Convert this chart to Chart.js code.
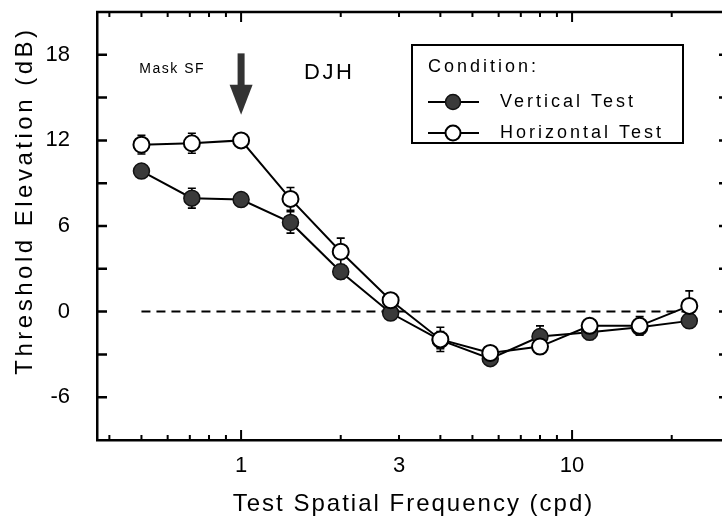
<!DOCTYPE html>
<html><head><meta charset="utf-8">
<script src="https://cdn.jsdelivr.net/npm/chart.js@4.4.1/dist/chart.umd.min.js"></script>
<style>
html,body{margin:0;padding:0;overflow:hidden;background:#fff;}
#wrap{width:740px;height:524px;position:relative;}
</style></head><body>
<div id="wrap"><canvas id="c"></canvas></div>
<script>
// ---- data ----
const frequencies = [0.5, 0.71, 1, 1.41, 2, 2.83, 4, 5.66, 8, 11.3, 16, 22.6];
const verticalTest = [9.85, 7.95, 7.85, 6.25, 2.8, -0.1, -2.0, -3.3, -1.75, -1.45, -1.1, -0.65];
const verticalErr  = [0.3, 0.7, 0.3, 0.75, 0.5, 0.3, 0.6, 0.3, 0.75, 0.5, 0.3, 0.3];
const horizontalTest = [11.7, 11.8, 12.0, 7.9, 4.2, 0.8, -1.95, -2.9, -2.45, -1.0, -1.0, 0.4];
const horizontalErr  = [0.65, 0.7, 0.3, 0.8, 0.95, 0.3, 0.85, 0.3, 0.4, 0.3, 0.65, 1.05];
const xTickLabels = [1, 3, 10];
const xMajorTicks = [1, 10];
const xMinorTicks = [0.4, 0.5, 0.6, 0.7, 0.8, 0.9, 2, 3, 4, 5, 6, 7, 8, 9, 20];
const yTickLabels = [-6, 0, 6, 12, 18];
const yTickMarks = [-6, -3, 0, 3, 6, 9, 12, 15, 18];
const maskSF = 1;
const seriesNames = ['Vertical Test', 'Horizontal Test'];
const legendTitle = 'Condition:';
const subjectLabel = 'DJH';
const maskLabel = 'Mask SF';

const FONT = "'Liberation Sans', Arial, Helvetica, sans-serif";
const NARROW = "'Liberation Sans Narrow', 'Arial Narrow', 'Liberation Sans', Arial, sans-serif";
Chart.defaults.font.family = FONT;
Chart.defaults.color = '#000';

function patchTitle(scale, spacing) {
  if (scale._lsPatched) return;
  const orig = scale.drawTitle.bind(scale);
  scale.drawTitle = function () {
    const prev = this.ctx.letterSpacing;
    this.ctx.letterSpacing = spacing;
    orig();
    this.ctx.letterSpacing = prev;
  };
  scale._lsPatched = true;
}

const decor = {
  id: 'decor',
  beforeDraw(chart) {
    chart.ctx.letterSpacing = '0px';
    patchTitle(chart.scales.x, '2px');
    patchTitle(chart.scales.y, '3.5px');
  },
  beforeDatasetsDraw(chart) {
    const {ctx, scales: {x, y}} = chart;
    ctx.save();
    ctx.strokeStyle = '#000';
    ctx.lineWidth = 1.6;
    chart.data.datasets.forEach(ds => {
      if (!ds.errors) return;
      ds.data.forEach((p, i) => {
        const e = ds.errors[i];
        const px = x.getPixelForValue(p.x);
        const y1 = y.getPixelForValue(p.y + e), y2 = y.getPixelForValue(p.y - e);
        ctx.beginPath();
        ctx.moveTo(px, y1); ctx.lineTo(px, y2);
        ctx.moveTo(px - 4, y1); ctx.lineTo(px + 4, y1);
        ctx.moveTo(px - 4, y2); ctx.lineTo(px + 4, y2);
        ctx.stroke();
      });
    });
    ctx.restore();
  },
  afterDatasetsDraw(chart) {
    const {ctx, chartArea: a, scales: {x, y}} = chart;
    ctx.save();
    ctx.strokeStyle = '#000';
    // frame top/right
    ctx.lineWidth = 2.5;
    ctx.beginPath();
    ctx.moveTo(a.left - 1, a.top); ctx.lineTo(a.right, a.top); ctx.lineTo(a.right, a.bottom);
    ctx.stroke();
    // inward y ticks (left and right)
    yTickMarks.forEach(v => {
      const py = y.getPixelForValue(v);
      ctx.beginPath();
      ctx.moveTo(a.left, py); ctx.lineTo(a.left + 10, py);
      ctx.moveTo(a.right, py); ctx.lineTo(a.right - 11, py);
      ctx.stroke();
    });
    // inward x ticks (bottom and top)
    ctx.lineWidth = 2;
    const xt = (v, len) => {
      const px = x.getPixelForValue(v);
      ctx.beginPath();
      ctx.moveTo(px, a.bottom); ctx.lineTo(px, a.bottom - len);
      ctx.moveTo(px, a.top); ctx.lineTo(px, a.top + len);
      ctx.stroke();
    };
    xMinorTicks.forEach(v => xt(v, 5));
    xMajorTicks.forEach(v => xt(v, 10));
    // mask SF arrow
    const ax = x.getPixelForValue(maskSF);
    const yTop = y.getPixelForValue(18.1), yNeck = y.getPixelForValue(15.9), yTip = y.getPixelForValue(13.8);
    ctx.fillStyle = '#333';
    ctx.fillRect(ax - 3.5, yTop, 7, yNeck - yTop + 1);
    ctx.beginPath();
    ctx.moveTo(ax - 11.5, yNeck); ctx.lineTo(ax + 11.5, yNeck); ctx.lineTo(ax, yTip); ctx.closePath();
    ctx.fill();
    // Mask SF label
    ctx.fillStyle = '#000';
    ctx.letterSpacing = '1.5px';
    ctx.font = `14px ${FONT}`;
    ctx.textAlign = 'right'; ctx.textBaseline = 'middle';
    ctx.fillText(maskLabel, ax - 36, y.getPixelForValue(17.0));
    // subject label
    ctx.letterSpacing = '2.5px';
    ctx.font = `22px ${FONT}`;
    ctx.textAlign = 'left';
    ctx.fillText(subjectLabel, x.getPixelForValue(1.55), y.getPixelForValue(16.7));
    // legend box
    const L = {l: 412, t: 45, r: 683, b: 143};
    ctx.fillStyle = '#fff';
    ctx.fillRect(L.l, L.t, L.r - L.l, L.b - L.t);
    ctx.lineWidth = 2;
    ctx.strokeRect(L.l, L.t, L.r - L.l, L.b - L.t);
    ctx.fillStyle = '#000';
    ctx.font = `18px ${FONT}`;
    ctx.letterSpacing = '3px';
    ctx.textAlign = 'left'; ctx.textBaseline = 'middle';
    ctx.fillText(legendTitle, 428, 67);
    chart.data.datasets.forEach((ds, i) => {
      if (!ds.errors) return;
      const ry = 102 + i * 31;
      ctx.lineWidth = 2;
      ctx.strokeStyle = '#000';
      ctx.beginPath(); ctx.moveTo(428, ry); ctx.lineTo(479, ry); ctx.stroke();
      ctx.beginPath(); ctx.arc(453, ry, 7.5, 0, Math.PI * 2);
      ctx.fillStyle = ds.pointBackgroundColor; ctx.fill();
      ctx.lineWidth = ds.pointBorderWidth; ctx.strokeStyle = ds.pointBorderColor; ctx.stroke();
      ctx.fillStyle = '#000';
      ctx.fillText(ds.label, 500, ry);
    });
    ctx.restore();
  }
};

const toPoints = vals => frequencies.map((f, i) => ({x: f, y: vals[i]}));
const noPad = s => { s.paddingTop = 0; s.paddingBottom = 0; s.paddingLeft = 0; s.paddingRight = 0; };

new Chart(document.getElementById('c'), {
  type: 'line',
  data: {
    datasets: [
      {label: seriesNames[0], data: toPoints(verticalTest), errors: verticalErr,
       borderColor: '#000', borderWidth: 2, pointRadius: 8, pointBackgroundColor: '#3a3a3a',
       pointBorderColor: '#111', pointBorderWidth: 1.5, order: 1, tension: 0},
      {label: seriesNames[1], data: toPoints(horizontalTest), errors: horizontalErr,
       borderColor: '#000', borderWidth: 2, pointRadius: 8, pointBackgroundColor: '#fff',
       pointBorderColor: '#000', pointBorderWidth: 2, order: 0, tension: 0},
      {label: 'zero', data: [{x: frequencies[0], y: 0}, {x: frequencies[frequencies.length - 1], y: 0}],
       borderColor: '#000', borderWidth: 2, borderDash: [9, 6], pointRadius: 0, order: 2}
    ]
  },
  options: {
    responsive: true, maintainAspectRatio: false, animation: false,
    layout: {padding: {top: 12, right: 10, left: 0, bottom: 0}},
    plugins: {legend: {display: false}, tooltip: {enabled: false}},
    scales: {
      x: {
        type: 'logarithmic', min: 0.367, max: 30,
        grid: {display: false, drawTicks: false},
        border: {display: true, color: '#000', width: 2.5},
        ticks: {color: '#000', font: {size: 22, family: NARROW}, padding: 13, autoSkip: false, maxRotation: 0,
                callback: v => String(v)},
        afterBuildTicks: s => { s.ticks = xTickLabels.map(v => ({value: v})); },
        afterFit: s => { s.height = 84; noPad(s); },
        title: {display: true, text: 'Test Spatial Frequency (cpd)', color: '#000',
                font: {size: 24}, padding: {top: 0, bottom: 5}}
      },
      y: {
        min: -9, max: 21,
        grid: {display: false, drawTicks: false},
        border: {display: true, color: '#000', width: 2.5},
        ticks: {color: '#000', font: {size: 22, family: NARROW}, padding: 27, autoSkip: false},
        afterBuildTicks: s => { s.ticks = yTickLabels.map(v => ({value: v})); },
        afterFit: s => { s.width = 97; noPad(s); },
        title: {display: true, text: '     Threshold Elevation (dB)', color: '#000',
                font: {size: 24}, padding: {top: 10.6, bottom: 0}}
      }
    }
  },
  plugins: [decor]
});
</script>
</body></html>
